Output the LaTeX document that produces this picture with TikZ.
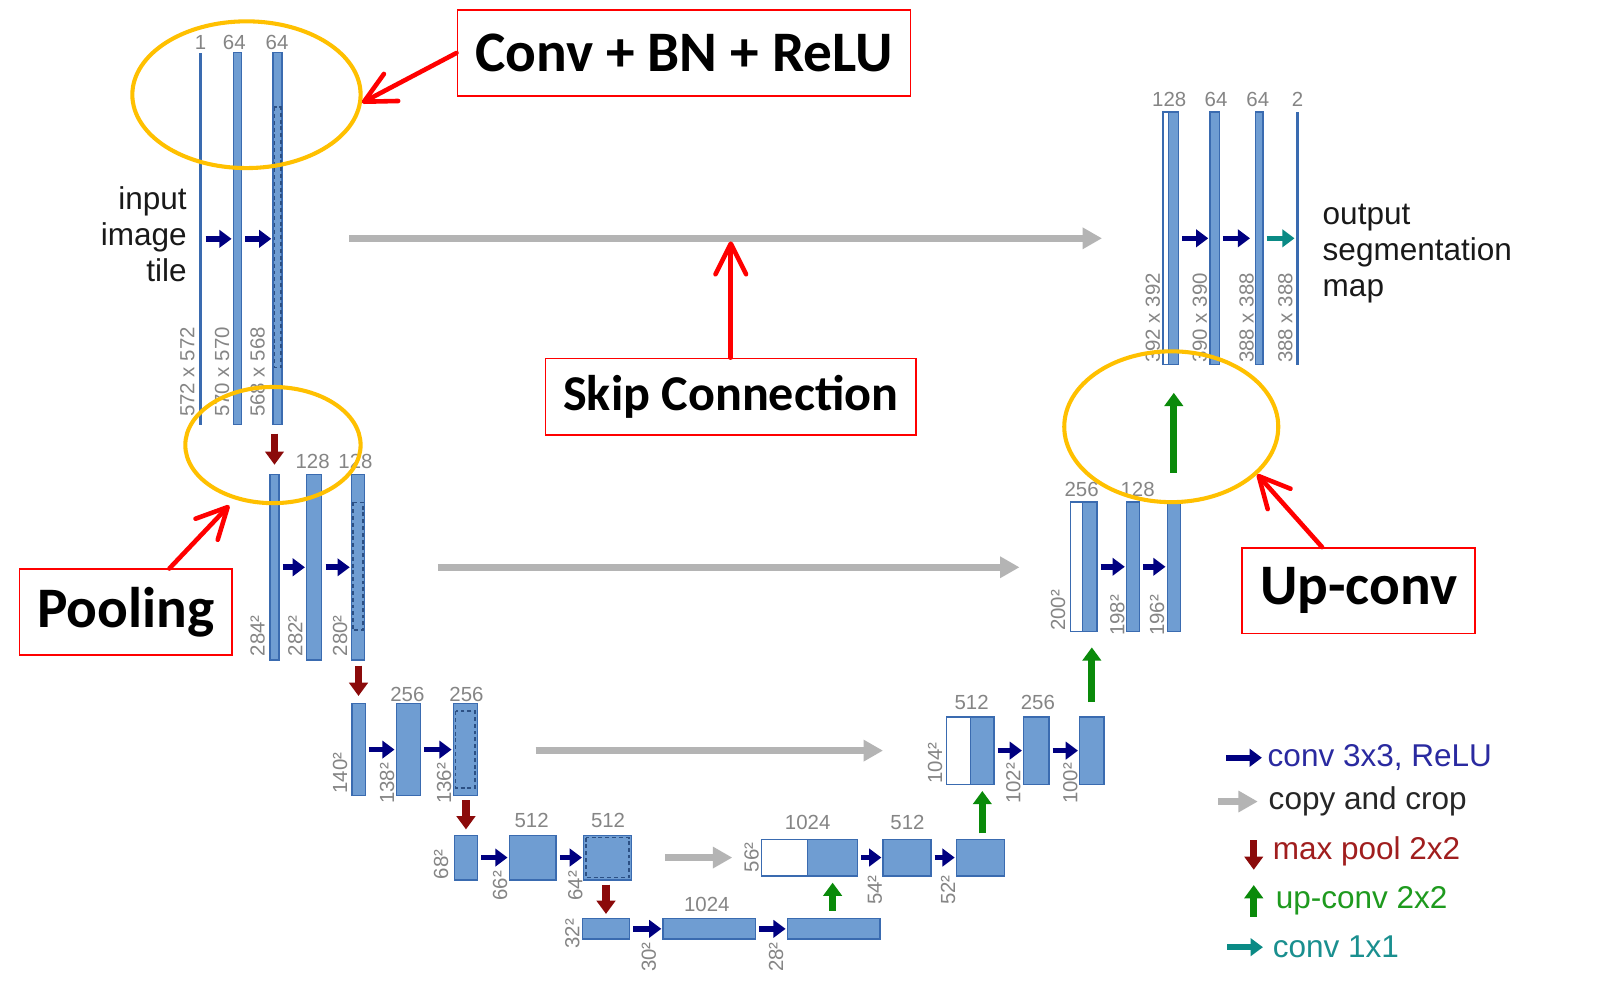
\documentclass[tikz,border=0pt]{standalone}
\usepackage{fontspec}
\setmainfont{Liberation Sans}
\newfontfamily\callout{Carlito}
\usetikzlibrary{arrows.meta}
\usetikzlibrary{shapes.geometric}

\definecolor{barfill}{HTML}{6F9DD2}
\definecolor{barline}{HTML}{3A6BB0}
\definecolor{convblue}{HTML}{000080}
\definecolor{poolred}{HTML}{8B0A0A}
\definecolor{upgreen}{HTML}{0A8A0A}
\definecolor{tealc}{HTML}{0A8A85}
\definecolor{skipgray}{HTML}{B4B4B4}
\definecolor{numgray}{HTML}{858585}
\definecolor{ringorange}{HTML}{FFC000}
\definecolor{legblue}{HTML}{2A2AA0}
\definecolor{legred}{HTML}{A01E1E}
\definecolor{leggreen}{HTML}{1E9A1E}
\definecolor{legteal}{HTML}{1A8F8F}

\begin{document}
\begin{tikzpicture}[x=0.01cm,y=-0.01cm,
	fmap/.style={draw=barline,fill=barfill,line width=0.35pt,inner sep=0pt},
	cmap/.style={fmap,fill=white},
	thinmap/.style={fill=barline,inner sep=0pt,minimum width=0.025cm},
	num/.style={text=numgray,inner sep=0pt,font=\fontsize{5.7}{6}\selectfont},
	sizelbl/.style={num,rotate=90,anchor=west},
	convarrow/.style={draw=convblue,line width=0.055cm,-{Triangle[length=0.12cm,width=0.17cm]},shorten <=0.03cm,shorten >=0.01cm},
	onearrow/.style={convarrow,draw=tealc},
	poolarrow/.style={draw=poolred,line width=0.07cm,-{Triangle[length=0.13cm,width=0.18cm]}},
	uparrow/.style={poolarrow,draw=upgreen},
	skiparrow/.style={draw=skipgray,line width=0.065cm,-{Triangle[length=0.19cm,width=0.2cm]}},
	cropline/.style={draw=barline!75!black,line width=0.45pt,dash pattern=on 1.1pt off 0.8pt},
	ring/.style={ellipse,draw=ringorange,line width=0.04cm,inner sep=0pt},
	callbox/.style={draw=red,line width=0.45pt,text=black,inner xsep=0.175cm,minimum height=0.84cm,font=\callout\bfseries\fontsize{16}{18}\selectfont},
	callarrow/.style={draw=red,line width=0.045cm,line cap=round,-{Straight Barb[length=0.3cm,width=0.3cm,round]}},
	bigtext/.style={inner sep=0pt,text=black!90,font=\fontsize{8.8}{10}\selectfont},
]
	\useasboundingbox (0,0) rectangle (1568,989);
	\fill[white] (0,0) rectangle (1568,989);

	% contracting path
	\node[thinmap,minimum height=3.65cm] (l1a) at (197,234.5) {};
	\node[fmap,minimum width=0.08cm,minimum height=3.65cm] (l1b) at (233,234.5) {};
	\node[fmap,minimum width=0.09cm,minimum height=3.65cm] (l1c) at (272.5,234.5) {};
	\node[fmap,minimum width=0.09cm,minimum height=1.82cm] (l2a) at (269.5,557) {};
	\node[fmap,minimum width=0.15cm,minimum height=1.82cm] (l2b) at (308.5,557) {};
	\node[fmap,minimum width=0.13cm,minimum height=1.82cm] (l2c) at (351.5,557) {};
	\node[fmap,minimum width=0.13cm,minimum height=0.90cm] (l3a) at (352,736) {};
	\node[fmap,minimum width=0.24cm,minimum height=0.90cm] (l3b) at (401,736) {};
	\node[fmap,minimum width=0.24cm,minimum height=0.90cm] (l3c) at (457,736) {};
	\node[fmap,minimum width=0.23cm,minimum height=0.44cm] (l4a) at (457.5,842) {};
	\node[fmap,minimum width=0.46cm,minimum height=0.44cm] (l4b) at (523,842) {};
	\node[fmap,minimum width=0.47cm,minimum height=0.44cm] (l4c) at (596.5,842) {};
	\node[fmap,minimum width=0.46cm,minimum height=0.20cm] (l5a) at (595,912) {};
	\node[fmap,minimum width=0.91cm,minimum height=0.20cm] (l5b) at (696.5,912) {};
	\node[fmap,minimum width=0.91cm,minimum height=0.20cm] (l5c) at (818.5,912) {};

	\draw[cropline] ([shift={(2,54)}]l1c.north west) rectangle ([shift={(-2,-57)}]l1c.south east);
	\draw[cropline] ([shift={(2,28)}]l2c.north west) rectangle ([shift={(-2,-30)}]l2c.south east);
	\draw[cropline] ([shift={(3,8)}]l3c.north west) rectangle ([shift={(-3,-8)}]l3c.south east);
	\draw[cropline] ([shift={(3,3)}]l4c.north west) rectangle ([shift={(-3,-3)}]l4c.south east);

	% expansive path
	\node[cmap,minimum width=0.45cm,minimum height=0.36cm] (r4w) at (770.5,842) {};
	\node[fmap,minimum width=0.49cm,minimum height=0.36cm] (r4a) at (817.5,842) {};
	\node[fmap,minimum width=0.47cm,minimum height=0.36cm] (r4b) at (890.5,842) {};
	\node[fmap,minimum width=0.47cm,minimum height=0.36cm] (r4c) at (962.5,842) {};
	\node[cmap,minimum width=0.24cm,minimum height=0.66cm] (r3w) at (941,737) {};
	\node[fmap,minimum width=0.23cm,minimum height=0.66cm] (r3a) at (964.5,737) {};
	\node[fmap,minimum width=0.25cm,minimum height=0.66cm] (r3b) at (1017.5,737) {};
	\node[fmap,minimum width=0.24cm,minimum height=0.66cm] (r3c) at (1072,737) {};
	\node[cmap,minimum width=0.12cm,minimum height=1.27cm] (r2w) at (1057,556.5) {};
	\node[fmap,minimum width=0.14cm,minimum height=1.27cm] (r2a) at (1070,556.5) {};
	\node[fmap,minimum width=0.13cm,minimum height=1.27cm] (r2b) at (1112.5,556.5) {};
	\node[fmap,minimum width=0.13cm,minimum height=1.27cm] (r2c) at (1152.5,556.5) {};
	\node[cmap,minimum width=0.05cm,minimum height=2.48cm] (r1w) at (1144.5,234) {};
	\node[fmap,minimum width=0.10cm,minimum height=2.48cm] (r1a) at (1152,234) {};
	\node[fmap,minimum width=0.09cm,minimum height=2.48cm] (r1b) at (1192.5,234) {};
	\node[fmap,minimum width=0.07cm,minimum height=2.48cm] (r1c) at (1236.5,234) {};
	\node[thinmap,minimum height=2.48cm] (r1d) at (1274,234) {};

	% channel numbers
	\node[num] (c1a) at (197,42) {1};
	\node[num] (c1b) at (230,42) {64};
	\node[num] (c1c) at (272,42) {64};
	\node[num] (c2b) at (307,453) {128};
	\node[num] (c2c) at (349,453) {128};
	\node[num] (c3b) at (400,682) {256};
	\node[num] (c3c) at (458,682) {256};
	\node[num] (c4b) at (522,806) {512};
	\node[num] (c4c) at (597,806) {512};
	\node[num] (c5b) at (694,888) {1024};
	\node[num] (cr4a) at (793,808) {1024};
	\node[num] (cr4b) at (891,808) {512};
	\node[num] (cr3a) at (954,690) {512};
	\node[num] (cr3b) at (1019,690) {256};
	\node[num] (cr2a) at (1062,481) {256};
	\node[num] (cr2b) at (1117,481) {128};
	\node[num] (cr1a) at (1148,98) {128};
	\node[num] (cr1b) at (1194,98) {64};
	\node[num] (cr1c) at (1235,98) {64};
	\node[num] (cr1d) at (1274,98) {2};

	% map sizes
	\node[sizelbl] (s1a) at (184,410) {572 x 572};
	\node[sizelbl] (s1b) at (218,410) {570 x 570};
	\node[sizelbl] (s1c) at (253,410) {568 x 568};
	\node[sizelbl] (s2a) at (253,645) {284²};
	\node[sizelbl] (s2b) at (290,645) {282²};
	\node[sizelbl] (s2c) at (334,645) {280²};
	\node[sizelbl] (s3a) at (334,780) {140²};
	\node[sizelbl] (s3b) at (380,790) {138²};
	\node[sizelbl] (s3c) at (436,790) {136²};
	\node[sizelbl] (s4a) at (433,864) {68²};
	\node[sizelbl] (s4b) at (491,885) {66²};
	\node[sizelbl] (s4c) at (565,885) {64²};
	\node[sizelbl] (s5a) at (562,932) {32²};
	\node[sizelbl] (s5b) at (637,955) {30²};
	\node[sizelbl] (s5c) at (762,955) {28²};
	\node[sizelbl] (sr4a) at (738,857) {56²};
	\node[sizelbl] (sr4b) at (859,889) {54²};
	\node[sizelbl] (sr4c) at (931,889) {52²};
	\node[sizelbl] (sr3a) at (918,770) {104²};
	\node[sizelbl] (sr3b) at (995,790) {102²};
	\node[sizelbl] (sr3c) at (1051,790) {100²};
	\node[sizelbl] (sr2a) at (1039,620) {200²};
	\node[sizelbl] (sr2b) at (1097,625) {198²};
	\node[sizelbl] (sr2c) at (1136,625) {196²};
	\node[sizelbl] (sr1a) at (1132,357) {392 x 392};
	\node[sizelbl] (sr1b) at (1178,357) {390 x 390};
	\node[sizelbl] (sr1c) at (1224,357) {388 x 388};
	\node[sizelbl] (sr1d) at (1262,357) {388 x 388};

	\node[bigtext,align=right,anchor=east] (intile) at (184,230) {input\\image\\tile};
	\node[bigtext,align=left,anchor=west] (outmap) at (1298,249) {output\\segmentation\\map};

	% conv 3x3
	\draw[convarrow] (l1a.east) -- (l1b.west);
	\draw[convarrow] (l1b.east) -- (l1c.west);
	\draw[convarrow] (l2a.east) -- (l2b.west);
	\draw[convarrow] (l2b.east) -- (l2c.west);
	\draw[convarrow] (l3a.east) -- (l3b.west);
	\draw[convarrow] (l3b.east) -- (l3c.west);
	\draw[convarrow] (l4a.east) -- (l4b.west);
	\draw[convarrow] (l4b.east) -- (l4c.west);
	\draw[convarrow] (l5a.east) -- (l5b.west);
	\draw[convarrow] (l5b.east) -- (l5c.west);
	\draw[convarrow] (r4a.east) -- (r4b.west);
	\draw[convarrow] (r4b.east) -- (r4c.west);
	\draw[convarrow] (r3a.east) -- (r3b.west);
	\draw[convarrow] (r3b.east) -- (r3c.west);
	\draw[convarrow] (r2a.east) -- (r2b.west);
	\draw[convarrow] (r2b.east) -- (r2c.west);
	\draw[convarrow] (r1a.east) -- (r1b.west);
	\draw[convarrow,shorten >=0.05cm] (r1b.east) -- (r1c.west);
	\draw[onearrow] (r1c.east) -- (r1d.west);

	% max pool
	\draw[poolarrow,shorten <=0.08cm,shorten >=0.09cm] (l1c.south -| l2a.north) -- (l2a.north);
	\draw[poolarrow,shorten <=0.05cm,shorten >=0.07cm] (l2c.south -| l3a.north) -- (l3a.north);
	\draw[poolarrow,shorten <=0.04cm,shorten >=0.05cm] (l3c.south -| l4a.north) -- (l4a.north);
	\draw[poolarrow,shorten <=0.04cm,shorten >=0.04cm] (l4c.south -| l5a.north) -- (l5a.north);

	% up-conv
	\draw[uparrow,shorten <=0.07cm,shorten >=0.06cm] (l5c.north -| r4a.south) -- (r4a.south);
	\draw[uparrow,shorten <=0.05cm,shorten >=0.06cm] (r4c.north -| r3a.south) -- (r3a.south);
	\draw[uparrow,shorten <=0.14cm,shorten >=0.15cm] (r3c.north) -- (r3c.north |- r2a.south);
	\draw[uparrow,shorten <=0.28cm,shorten >=0.27cm] (r2c.north) -- (r2c.north |- r1a.south);

	% copy and crop
	\coordinate (k1s) at (343,234);
	\coordinate (k1e) at (1082,234);
	\coordinate (k2s) at (430,557);
	\coordinate (k2e) at (1001,557);
	\coordinate (k3s) at (526,737);
	\coordinate (k3e) at (867,737);
	\coordinate (k4s) at (653,842);
	\coordinate (k4e) at (719,842);
	\draw[skiparrow] (k1s) -- (k1e);
	\draw[skiparrow] (k2s) -- (k2e);
	\draw[skiparrow] (k3s) -- (k3e);
	\draw[skiparrow] (k4s) -- (k4e);

	% legend
	\node[bigtext,text=legblue,anchor=west] (lg1) at (1244,744) {conv 3x3, ReLU};
	\node[bigtext,text=black!85,anchor=west] (lg2) at (1245,787) {copy and crop};
	\node[bigtext,text=legred,anchor=west] (lg3) at (1249,836) {max pool 2x2};
	\node[bigtext,text=leggreen,anchor=west] (lg4) at (1252,884) {up-conv 2x2};
	\node[bigtext,text=legteal,anchor=west] (lg5) at (1249,930) {conv 1x1};
	\draw[convarrow,shorten <=0pt,shorten >=0pt] ([xshift=-0.40cm]lg1.west) -- ([xshift=-0.05cm]lg1.west);
	\draw[skiparrow] ([xshift=-0.49cm]lg2.west) -- ([xshift=-0.10cm]lg2.west);
	\draw[poolarrow] ([xshift=-0.18cm,yshift=0.11cm]lg3.west) -- ([xshift=-0.18cm,yshift=-0.18cm]lg3.west);
	\draw[uparrow] ([xshift=-0.21cm,yshift=-0.16cm]lg4.west) -- ([xshift=-0.21cm,yshift=0.15cm]lg4.west);
	\draw[onearrow,shorten <=0pt,shorten >=0pt] ([xshift=-0.44cm]lg5.west) -- ([xshift=-0.09cm]lg5.west);

	% annotations
	\node[ring,minimum width=2.24cm,minimum height=1.44cm] (ring1) at (242,93) {};
	\node[ring,minimum width=1.72cm,minimum height=1.14cm] (ring2) at (268,437) {};
	\node[ring,minimum width=2.10cm,minimum height=1.48cm] (ring3) at (1150,419) {};

	\node[callbox] (bnbox) at (671.5,52) {Conv + BN + ReLU};
	\node[callbox,minimum height=0.75cm,font=\callout\bfseries\fontsize{14}{16}\selectfont] (skipbox) at (717.5,389.5) {Skip Connection};
	\node[callbox] (poolbox) at (123.5,601) {Pooling};
	\node[callbox] (upbox) at (1334,580) {Up-conv};

	\draw[callarrow] (bnbox.west) -- (ring1.-4);
	\draw[callarrow,shorten >=0.03cm] (skipbox.north) -- (skipbox.north |- k1s);
	\draw[callarrow,shorten >=0.08cm] (poolbox.45) -- (ring2.235);
	\draw[callarrow] (upbox.130) -- (ring3.-29);
\end{tikzpicture}
\end{document}
